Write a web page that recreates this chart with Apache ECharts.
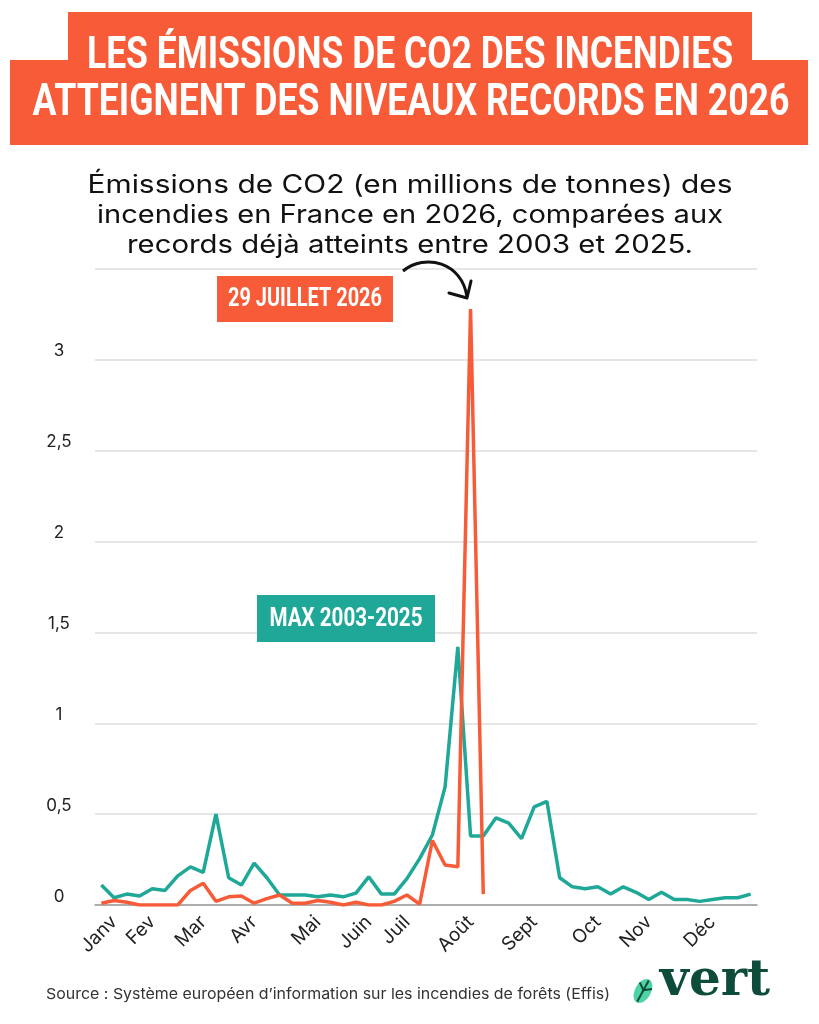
<!DOCTYPE html>
<html><head><meta charset="utf-8">
<script src="https://cdn.jsdelivr.net/npm/echarts@6/dist/echarts.min.js"></script>
<style>html,body{margin:0;padding:0;background:#fff}#c{width:819px;height:1024px}</style>
</head><body><div id="c"></div>
<script>
// ---- data ----
const monthLabels = ['Janv','Fev','Mar','Avr','Mai','Juin','Juil','Août','Sept','Oct','Nov','Déc'];
const monthWeekIndex = [1,4,8,12,17,21,24,29,34,39,43,48];
const weeks = Array.from({length: 52}, (_, i) => 'S' + (i + 1));
const max2003_2025 = [0.11,0.04,0.06,0.05,0.09,0.08,0.16,0.21,0.18,0.50,
                      0.15,0.11,0.23,0.15,0.055,0.055,0.055,0.045,0.055,0.045,
                      0.065,0.155,0.06,0.06,0.145,0.255,0.385,0.65,1.42,0.38,
                      0.38,0.48,0.45,0.365,0.54,0.57,0.15,0.10,0.09,0.10,
                      0.06,0.10,0.07,0.03,0.07,0.03,0.03,0.02,0.03,0.04,
                      0.04,0.06];
const y2026 = [0.01,0.025,0.015,0,0,0,0,0.08,0.12,0.02,
               0.045,0.05,0.01,0.035,0.055,0.01,0.01,0.025,0.015,0,
               0.015,0,0,0.02,0.055,0.005,0.355,0.22,0.21,3.28,
               0.06];
const yTickLabels = {'0':'0','0.5':'0,5','1':'1','1.5':'1,5','2':'2','2.5':'2,5','3':'3'};
const titleLines = ['LES ÉMISSIONS DE CO2 DES INCENDIES','ATTEIGNENT DES NIVEAUX RECORDS EN 2026'];
const subtitleLines = ['Émissions de CO2 (en millions de tonnes) des','incendies en France en 2026, comparées aux','records déjà atteints entre 2003 et 2025.'];
const label2026 = '29 JUILLET 2026';
const labelMax = 'MAX 2003-2025';
const sourceText = 'Source : Système européen d’information sur les incendies de forêts (Effis)';

// ---- styles ----
const ORANGE = '#F85B37';
const TEAL = '#1FA898';
const CONDENSED = 'Roboto';
const BODY = 'Inter';

const ctx = document.createElement('canvas').getContext('2d');
function fitScale(text, font, target) {
  ctx.font = font;
  return target / ctx.measureText(text).width;
}
function condText(text, cx, cy, size, targetW, fill) {
  const font = 'bold ' + size + 'px ' + CONDENSED;
  return {type: 'text', x: cx, y: cy, scaleX: fitScale(text, font, targetW), z: 100,
    style: {text: text, font: font, fill: fill, align: 'center', verticalAlign: 'middle',
            textAlign: 'center', textVerticalAlign: 'middle'}};
}
function bodyText(text, cx, cy, size, targetW, fill) {
  const font = size + 'px ' + BODY;
  return {type: 'text', x: cx, y: cy, scaleX: fitScale(text, font, targetW), z: 100,
    style: {text: text, font: font, fill: fill, align: 'center', verticalAlign: 'middle',
            textAlign: 'center', textVerticalAlign: 'middle'}};
}
const srcFont = '15px ' + BODY;

const chart = echarts.init(document.getElementById('c'), null, {renderer: 'canvas'});
const graphics = [
  {type: 'rect', shape: {x: 68, y: 12, width: 684, height: 50}, style: {fill: ORANGE}, z: 90},
  {type: 'rect', shape: {x: 10, y: 60, width: 798, height: 85}, style: {fill: ORANGE}, z: 90},
  condText(titleLines[0], 410, 57, 45, 646, '#fff'),
  condText(titleLines[1], 411, 104, 45, 757, '#fff'),
  bodyText(subtitleLines[0], 410, 185, 25, 645, '#111'),
  bodyText(subtitleLines[1], 410, 215, 25, 626, '#111'),
  bodyText(subtitleLines[2], 410, 245, 25, 566, '#111'),
  {type: 'rect', shape: {x: 217, y: 276, width: 176, height: 46}, style: {fill: ORANGE}, z: 90},
  condText(label2026, 305, 299, 26, 154, '#fff'),
  {type: 'rect', shape: {x: 257, y: 595, width: 178, height: 47}, style: {fill: TEAL}, z: 90},
  condText(labelMax, 346, 619, 26, 153, '#fff'),
  {type: 'bezierCurve', z: 100,
   shape: {x1: 403, y1: 271, cpx1: 425, cpy1: 253, cpx2: 462, cpy2: 262, x2: 467, y2: 297},
   style: {stroke: '#111', lineWidth: 3, fill: null}},
  {type: 'polyline', z: 100, shape: {points: [[449, 293], [467, 298], [471, 281]]},
   style: {stroke: '#111', lineWidth: 3, fill: null, lineJoin: 'round', lineCap: 'round'}},
  {type: 'text', x: 46, y: 994, z: 100, scaleX: fitScale(sourceText, srcFont, 564),
   style: {text: sourceText, font: srcFont, fill: '#333', align: 'left', verticalAlign: 'middle',
           textAlign: 'left', textVerticalAlign: 'middle'}},
  {type: 'ellipse', x: 643, y: 991, rotation: -0.5, z: 100,
   shape: {cx: 0, cy: 0, rx: 8, ry: 13}, style: {fill: '#4FD3A5'}},
  {type: 'polyline', x: 643, y: 991, rotation: -0.5, z: 101,
   shape: {points: [[0, -12], [0, 12]]}, style: {stroke: '#0D4B3B', lineWidth: 2}},
  {type: 'polyline', x: 643, y: 991, rotation: -0.5, z: 101,
   shape: {points: [[-7, -6], [0, -1], [7, -6]]}, style: {stroke: '#0D4B3B', lineWidth: 2, fill: null}},
  {type: 'text', x: 715, y: 1007, z: 100,
   style: {text: 'vert', font: 'bold 50px "DejaVu Serif"', fill: '#0D4B3B', align: 'center', verticalAlign: 'bottom',
           textAlign: 'center', textVerticalAlign: 'bottom'}}
];

chart.setOption({
  animation: false,
  backgroundColor: '#fff',
  grid: {left: 95, right: 62, top: 269, bottom: 119},
  xAxis: {
    type: 'category', data: weeks, boundaryGap: true,
    axisLine: {show: true, lineStyle: {color: '#9a9a9a', width: 1.5}},
    axisTick: {show: false},
    axisLabel: {
      interval: 0, rotate: 45, margin: 14, fontFamily: BODY, fontSize: 19, color: '#222',
      formatter: function (v, idx) {
        const k = monthWeekIndex.indexOf(idx);
        return k >= 0 ? monthLabels[k] : '';
      }
    },
    splitLine: {show: false}
  },
  yAxis: {
    type: 'value', min: 0, max: 3.5, interval: 0.5,
    axisLine: {show: false}, axisTick: {show: false},
    axisLabel: {
      align: 'center', margin: 36, verticalAlign: 'bottom', fontFamily: BODY, fontSize: 17, color: '#222',
      formatter: function (v) { return yTickLabels[String(v)] || ''; }
    },
    splitLine: {lineStyle: {color: '#dedede', width: 1.5}}
  },
  series: [
    {name: 'MAX 2003-2025', type: 'line', data: max2003_2025, showSymbol: false, symbol: 'none',
     lineStyle: {color: TEAL, width: 3.5}, itemStyle: {color: TEAL}, z: 3},
    {name: '2026', type: 'line', data: y2026, showSymbol: false, symbol: 'none',
     lineStyle: {color: ORANGE, width: 3.5}, itemStyle: {color: ORANGE}, z: 4}
  ],
  graphic: graphics
});
</script>
</body></html>
